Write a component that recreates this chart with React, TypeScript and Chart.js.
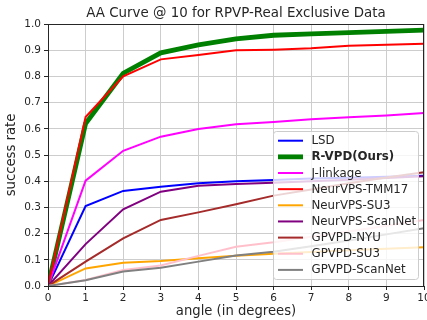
import React, { useEffect, useRef } from "react";
import { Chart, registerables } from "chart.js";

Chart.register(...registerables);

const angles = [0, 1, 2, 3, 4, 5, 6, 7, 8, 9, 10];
const yTicks = [0, 0.1, 0.2, 0.3, 0.4, 0.5, 0.6, 0.7, 0.8, 0.9, 1.0];

const lsd = [0, 0.305, 0.363, 0.379, 0.392, 0.4, 0.405, 0.41, 0.413, 0.417, 0.421];
const rvpd = [0, 0.62, 0.812, 0.89, 0.92, 0.943, 0.957, 0.962, 0.967, 0.972, 0.977];
const jlinkage = [0, 0.402, 0.516, 0.57, 0.599, 0.617, 0.626, 0.636, 0.644, 0.651, 0.66];
const tmm17 = [0, 0.645, 0.8, 0.865, 0.882, 0.9, 0.902, 0.907, 0.917, 0.921, 0.925];
const neurSu3 = [0, 0.067, 0.089, 0.095, 0.106, 0.115, 0.123, 0.13, 0.136, 0.142, 0.148];
const neurScanNet = [0, 0.16, 0.293, 0.36, 0.383, 0.389, 0.394, 0.4, 0.406, 0.412, 0.419];
const gpvpdNyu = [0, 0.093, 0.182, 0.252, 0.281, 0.312, 0.345, 0.368, 0.392, 0.414, 0.434];
const gpvpdSu3 = [0, 0.023, 0.061, 0.078, 0.115, 0.15, 0.167, 0.188, 0.208, 0.23, 0.252];
const gpvpdScanNet = [0, 0.022, 0.055, 0.07, 0.093, 0.116, 0.131, 0.152, 0.174, 0.197, 0.22];

const seriesNames = [
  "LSD",
  "R-VPD(Ours)",
  "J-linkage",
  "NeurVPS-TMM17",
  "NeurVPS-SU3",
  "NeurVPS-ScanNet",
  "GPVPD-NYU",
  "GPVPD-SU3",
  "GPVPD-ScanNet",
];
const seriesValues = [lsd, rvpd, jlinkage, tmm17, neurSu3, neurScanNet, gpvpdNyu, gpvpdSu3, gpvpdScanNet];
const seriesColors = ["#0000ff", "#008000", "#ff00ff", "#ff0000", "#ffa500", "#800080", "#a52a2a", "#ffc0cb", "#808080"];
const seriesWidths = [2, 4.8, 2, 2, 2, 2, 2, 2, 2];

const FONT = "'DejaVu Sans', sans-serif";

const decorPlugin = {
  id: "decor",
  afterDraw(chart: any) {
    const ctx = chart.ctx;
    const a = chart.chartArea;
    ctx.save();
    // frame
    ctx.strokeStyle = "#262626";
    ctx.lineWidth = 1;
    ctx.strokeRect(Math.round(a.left) + 0.5, Math.round(a.top) + 0.5, Math.round(a.right - a.left) - 1, Math.round(a.bottom - a.top));
    // title
    ctx.fillStyle = "#262626";
    ctx.textAlign = "center";
    ctx.textBaseline = "middle";
    ctx.font = `13.4px ${FONT}`;
    ctx.fillText("AA Curve @ 10 for RPVP-Real Exclusive Data", (a.left + a.right) / 2, 14);
    // x title
    ctx.font = `13.2px ${FONT}`;
    ctx.fillText("angle (in degrees)", (a.left + a.right) / 2, 312);
    // y title
    ctx.save();
    ctx.translate(12, (a.top + a.bottom) / 2);
    ctx.rotate(-Math.PI / 2);
    ctx.fillText("success rate", 0, 0);
    ctx.restore();
    // legend
    const lx = 273.5, ly = 131.5, lw = 145, lh = 148, r = 3;
    ctx.beginPath();
    ctx.moveTo(lx + r, ly);
    ctx.lineTo(lx + lw - r, ly);
    ctx.arcTo(lx + lw, ly, lx + lw, ly + r, r);
    ctx.lineTo(lx + lw, ly + lh - r);
    ctx.arcTo(lx + lw, ly + lh, lx + lw - r, ly + lh, r);
    ctx.lineTo(lx + r, ly + lh);
    ctx.arcTo(lx, ly + lh, lx, ly + lh - r, r);
    ctx.lineTo(lx, ly + r);
    ctx.arcTo(lx, ly, lx + r, ly, r);
    ctx.closePath();
    ctx.fillStyle = "rgba(255,255,255,0.8)";
    ctx.fill();
    ctx.strokeStyle = "#cccccc";
    ctx.lineWidth = 1;
    ctx.stroke();
    ctx.textAlign = "left";
    ctx.textBaseline = "middle";
    seriesNames.forEach((name, i) => {
      const cy = 140.7 + i * 16.15;
      ctx.beginPath();
      ctx.moveTo(278, cy);
      ctx.lineTo(303, cy);
      ctx.strokeStyle = seriesColors[i];
      ctx.lineWidth = seriesWidths[i];
      ctx.stroke();
      ctx.fillStyle = "#262626";
      ctx.font = `${i === 1 ? "bold " : ""}11.8px ${FONT}`;
      ctx.fillText(name, 311.5, cy + 0.5);
    });
    ctx.restore();
  },
};

export default function App() {
  const ref = useRef<HTMLCanvasElement | null>(null);
  useEffect(() => {
    document.body.style.margin = "0";
    const canvas = ref.current!;
    const datasets = seriesNames.map((name, i) => ({
      label: name,
      data: angles.map((x, k) => ({ x, y: seriesValues[i][k] })),
      borderColor: seriesColors[i],
      backgroundColor: seriesColors[i],
      borderWidth: seriesWidths[i],
      pointRadius: 0,
      tension: 0,
      fill: false,
      order: seriesNames.length - i,
    }));
    const chart = new Chart(canvas, {
      type: "line",
      data: { datasets },
      options: {
        animation: false,
        responsive: false,
        devicePixelRatio: 1,
        layout: { padding: { top: 24, right: 3, left: 0, bottom: 0 } },
        plugins: { legend: { display: false }, title: { display: false }, tooltip: { enabled: false } },
        scales: {
          x: {
            type: "linear",
            min: 0,
            max: 10,
            afterBuildTicks: (s: any) => {
              s.ticks = angles.map((v) => ({ value: v }));
            },
            afterFit: (s: any) => {
              s.height = 34;
              s.paddingLeft = 0;
              s.paddingRight = 0;
            },
            ticks: {
              font: { family: FONT, size: 10.5 },
              color: "#262626",
              padding: 2,
              maxRotation: 0,
              autoSkip: false,
              callback: (v: any) => String(v),
            },
            grid: { color: "#cdcdcd", lineWidth: 1, tickLength: 4, tickColor: "#262626" },
            border: { color: "#262626" },
          },
          y: {
            type: "linear",
            min: 0,
            max: 1,
            afterBuildTicks: (s: any) => {
              s.ticks = yTicks.map((v) => ({ value: v }));
            },
            afterFit: (s: any) => {
              s.width = 48;
              s.paddingTop = 0;
              s.paddingBottom = 0;
            },
            ticks: {
              font: { family: FONT, size: 10.5 },
              color: "#262626",
              padding: 3,
              autoSkip: false,
              callback: (v: any) => Number(v).toFixed(1),
            },
            grid: { color: "#cdcdcd", lineWidth: 1, tickLength: 4, tickColor: "#262626" },
            border: { color: "#262626" },
          },
        },
      },
      plugins: [decorPlugin],
    });
    return () => chart.destroy();
  }, []);
  return (
    <div style={{ position: "absolute", left: 0, top: 0, width: 427, height: 320, background: "#fff" }}>
      <canvas ref={ref} width={427} height={320} />
    </div>
  );
}
